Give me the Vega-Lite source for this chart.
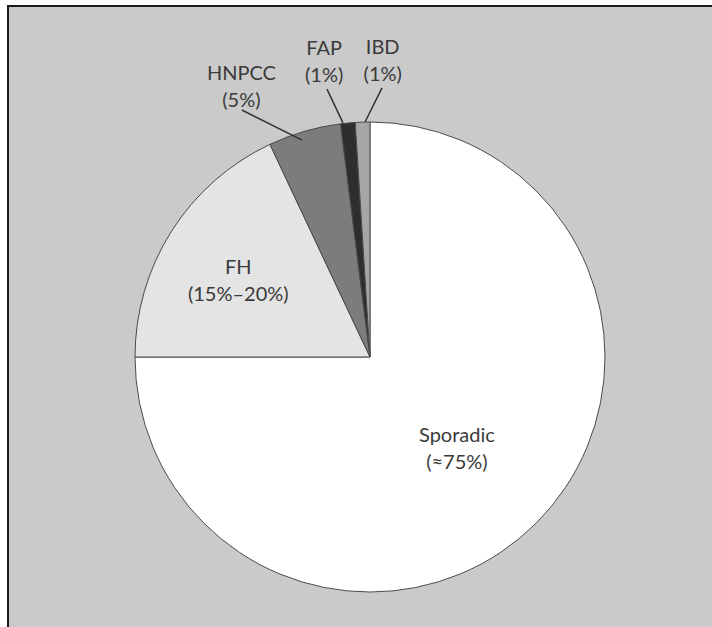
{
  "$schema": "https://vega.github.io/schema/vega-lite/v6.json",
  "width": 724,
  "height": 702,
  "autosize": {"type": "none"},
  "padding": {"left": 8, "top": 6, "right": 0, "bottom": 0},
  "background": "white",
  "config": {
    "view": {"fill": "#cacaca", "stroke": "#1a1a1a", "strokeWidth": 2},
    "text": {"font": "Lato", "fontSize": 20, "fill": "#3a3a3a", "lineHeight": 27, "lineBreak": "\n"}
  },
  "datasets": {
    "slices": [
      {"cat": "Sporadic", "value": 75, "ord": 1, "label": "Sporadic\n(≈75%)"},
      {"cat": "FH", "value": 18, "ord": 2, "label": "FH\n(15%–20%)"},
      {"cat": "HNPCC", "value": 5, "ord": 3, "label": "HNPCC\n(5%)"},
      {"cat": "FAP", "value": 1, "ord": 4, "label": "FAP\n(1%)"},
      {"cat": "IBD", "value": 1, "ord": 5, "label": "IBD\n(1%)"}
    ],
    "leaders": [
      {"cat": "HNPCC", "x": -0.545, "y": 1.051, "x2": -0.289, "y2": 0.923},
      {"cat": "FAP", "x": -0.183, "y": 1.14, "x2": -0.115, "y2": 0.996},
      {"cat": "IBD", "x": 0.051, "y": 1.145, "x2": -0.021, "y2": 1.0}
    ]
  },
  "layer": [
    {
      "data": {"name": "slices"},
      "mark": {"type": "arc", "outerRadius": 235, "stroke": "#4a4a4a", "strokeWidth": 1},
      "encoding": {
        "theta": {"field": "value", "type": "quantitative", "stack": true},
        "order": {"field": "ord", "type": "quantitative"},
        "color": {
          "field": "cat", "type": "nominal", "legend": null,
          "scale": {"domain": ["Sporadic", "FH", "HNPCC", "FAP", "IBD"],
                    "range": ["#ffffff", "#e4e4e4", "#7c7c7c", "#2e2e2e", "#a6a6a6"]}
        }
      }
    },
    {
      "data": {"name": "leaders"},
      "mark": {"type": "rule", "stroke": "#333333", "strokeWidth": 1.5},
      "encoding": {
        "x": {"field": "x", "type": "quantitative", "axis": null, "scale": {"domain": [-1.5404, 1.5404], "nice": false, "zero": false}},
        "y": {"field": "y", "type": "quantitative", "axis": null, "scale": {"domain": [-1.4936, 1.4936], "nice": false, "zero": false}},
        "x2": {"field": "x2"},
        "y2": {"field": "y2"}
      }
    },
    {
      "data": {"name": "slices"},
      "mark": {"type": "text", "radius": 130, "dx": -5, "dy": -13, "baseline": "middle", "align": "center"},
      "encoding": {
        "theta": {"field": "value", "type": "quantitative", "stack": true},
        "order": {"field": "ord", "type": "quantitative"},
        "text": {"condition": {"test": "datum.cat === 'Sporadic'", "field": "label"}, "value": ""}
      }
    },
    {
      "data": {"name": "slices"},
      "mark": {"type": "text", "radius": 156, "dy": -5, "baseline": "middle", "align": "center"},
      "encoding": {
        "theta": {"field": "value", "type": "quantitative", "stack": true},
        "order": {"field": "ord", "type": "quantitative"},
        "text": {"condition": {"test": "datum.cat === 'FH'", "field": "label"}, "value": ""}
      }
    },
    {
      "data": {"name": "slices"},
      "mark": {"type": "text", "radius": 296, "dx": -46, "dy": 1, "baseline": "middle", "align": "center"},
      "encoding": {
        "theta": {"field": "value", "type": "quantitative", "stack": true},
        "order": {"field": "ord", "type": "quantitative"},
        "text": {"condition": {"test": "datum.cat === 'HNPCC'", "field": "label"}, "value": ""}
      }
    },
    {
      "data": {"name": "slices"},
      "mark": {"type": "text", "radius": 296, "dx": -18, "dy": -13, "baseline": "middle", "align": "center"},
      "encoding": {
        "theta": {"field": "value", "type": "quantitative", "stack": true},
        "order": {"field": "ord", "type": "quantitative"},
        "text": {"condition": {"test": "datum.cat === 'FAP'", "field": "label"}, "value": ""}
      }
    },
    {
      "data": {"name": "slices"},
      "mark": {"type": "text", "radius": 296, "dx": 22, "dy": -13, "baseline": "middle", "align": "center"},
      "encoding": {
        "theta": {"field": "value", "type": "quantitative", "stack": true},
        "order": {"field": "ord", "type": "quantitative"},
        "text": {"condition": {"test": "datum.cat === 'IBD'", "field": "label"}, "value": ""}
      }
    }
  ]
}
